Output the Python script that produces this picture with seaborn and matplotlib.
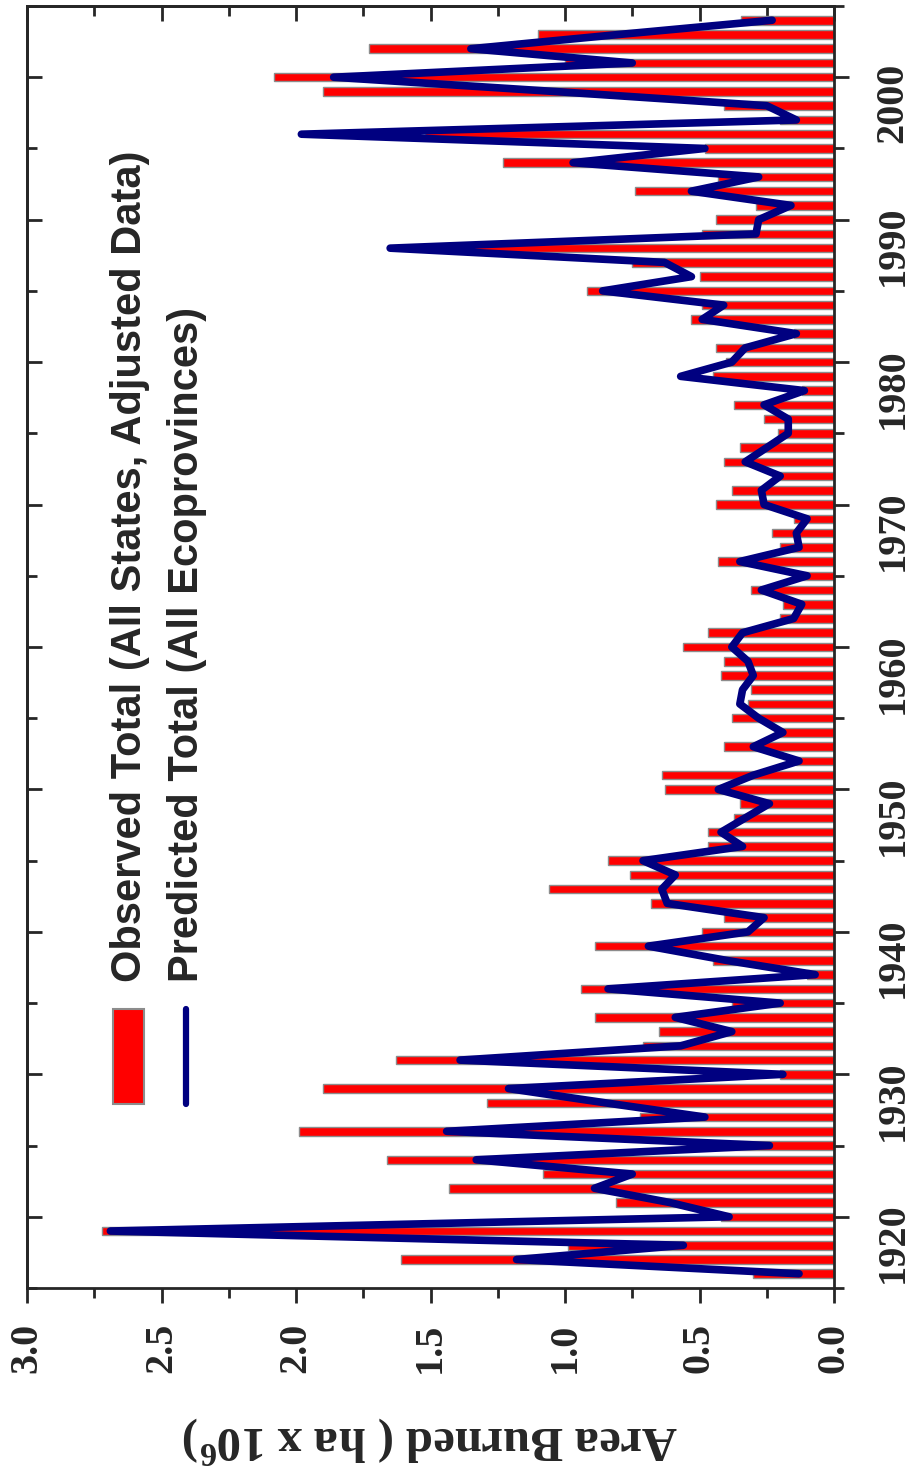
import pandas as pd
import seaborn as sns
import matplotlib.pyplot as plt
from matplotlib.patches import Rectangle
from matplotlib.lines import Line2D
from matplotlib.ticker import MultipleLocator, FormatStrFormatter

# area burned (million ha), one value per year 1916-2004
years = list(range(1916, 2005))
observed = [0.30, 1.61, 0.99, 2.72, 0.42, 0.81, 1.43, 1.08, 1.66, 0.50,
            1.99, 0.72, 1.29, 1.90, 0.20, 1.63, 0.71, 0.65, 0.89, 0.38,
            0.94, 0.10, 0.45, 0.89, 0.49, 0.41, 0.68, 1.06, 0.76, 0.84,
            0.47, 0.47, 0.37, 0.35, 0.63, 0.64, 0.14, 0.41, 0.22, 0.38,
            0.32, 0.31, 0.42, 0.41, 0.56, 0.47, 0.20, 0.19, 0.31, 0.12,
            0.43, 0.20, 0.23, 0.15, 0.44, 0.38, 0.22, 0.41, 0.35, 0.21,
            0.26, 0.37, 0.12, 0.45, 0.40, 0.44, 0.15, 0.53, 0.49, 0.92,
            0.50, 0.75, 1.35, 0.49, 0.44, 0.29, 0.74, 0.43, 1.23, 0.48,
            1.52, 0.20, 0.41, 1.90, 2.08, 1.00, 1.73, 1.10, 0.345]
predicted = [0.13, 1.18, 0.56, 2.69, 0.39, 0.61, 0.89, 0.75, 1.33, 0.24,
             1.44, 0.48, 0.85, 1.21, 0.19, 1.39, 0.57, 0.38, 0.59, 0.20,
             0.84, 0.07, 0.40, 0.69, 0.32, 0.26, 0.62, 0.64, 0.59, 0.71,
             0.34, 0.42, 0.33, 0.24, 0.43, 0.30, 0.13, 0.30, 0.19, 0.28,
             0.35, 0.34, 0.30, 0.32, 0.38, 0.34, 0.15, 0.12, 0.27, 0.10,
             0.35, 0.13, 0.14, 0.10, 0.26, 0.27, 0.20, 0.33, 0.25, 0.17,
             0.17, 0.26, 0.11, 0.57, 0.38, 0.33, 0.14, 0.49, 0.41, 0.86,
             0.53, 0.63, 1.65, 0.29, 0.28, 0.16, 0.53, 0.28, 0.97, 0.48,
             1.98, 0.14, 0.25, 1.04, 1.86, 0.75, 1.35, 0.80, 0.23]

df = pd.DataFrame({'Year': years, 'Observed': observed, 'Predicted': predicted})

sns.set_style('ticks')
plt.rcParams['font.family'] = ['Liberation Serif', 'DejaVu Serif']
plt.rcParams['font.weight'] = 'bold'
plt.rcParams['mathtext.fontset'] = 'custom'
plt.rcParams['mathtext.rm'] = 'Liberation Serif:bold'
plt.rcParams['mathtext.it'] = 'Liberation Serif:bold'
plt.rcParams['mathtext.bf'] = 'Liberation Serif:bold'

fig = plt.figure(figsize=(9.14, 14.78), dpi=100)
ax = fig.add_axes([27 / 914, 190 / 1478, 807 / 914, 1282 / 1478])

sns.barplot(data=df, x='Observed', y='Year', orient='h', native_scale=True,
            width=0.6, color='#ff0000', saturation=1, edgecolor='#8c8c8c',
            linewidth=1, ax=ax)
sns.lineplot(data=df, x='Predicted', y='Year', orient='y', sort=False,
             color='#000080', linewidth=5.5, solid_capstyle='round', ax=ax)

ax.set_xlim(3, 0)
ax.set_ylim(1915, 2005)
ax.xaxis.set_major_locator(MultipleLocator(0.5))
ax.xaxis.set_minor_locator(MultipleLocator(0.25))
ax.xaxis.set_major_formatter(FormatStrFormatter('%.1f'))
ax.yaxis.set_major_locator(MultipleLocator(10))
ax.yaxis.set_minor_locator(MultipleLocator(5))
ax.yaxis.set_major_formatter(FormatStrFormatter('%d'))
ax.yaxis.tick_right()

ax.tick_params(axis='x', which='both', direction='out', bottom=True, top=False,
               width=2, labelsize=29, labelrotation=90, pad=14)
ax.tick_params(axis='y', which='both', direction='out', right=True, left=False,
               labelright=True, labelleft=False, width=2, labelsize=29,
               labelrotation=90, pad=18)
ax.tick_params(which='major', length=11)
ax.tick_params(which='minor', length=7)
for s in ax.spines.values():
    s.set_linewidth(2)

# mirrored axes with inward ticks
top = ax.secondary_xaxis('top')
top.xaxis.set_major_locator(MultipleLocator(0.5))
top.xaxis.set_minor_locator(MultipleLocator(0.25))
top.tick_params(which='both', direction='in', labeltop=False, width=2)
top.tick_params(which='major', length=11)
top.tick_params(which='minor', length=7)
top.spines['top'].set_linewidth(2)
left = ax.secondary_yaxis('left')
left.yaxis.set_major_locator(MultipleLocator(10))
left.yaxis.set_minor_locator(MultipleLocator(5))
left.tick_params(which='both', direction='in', labelleft=False, width=2)
left.tick_params(which='major', length=11)
left.tick_params(which='minor', length=7)
left.spines['left'].set_linewidth(2)

ax.set_ylabel('')
ax.set_xlabel('Area Burned ( ha x 10$^{6}$)', fontsize=35, fontweight='bold', rotation=180)
ax.xaxis.set_label_coords(0.5, -0.1186)
ax.xaxis.label.set_va('center')

# legend drawn by hand, rotated with the chart
ax.add_patch(Rectangle((0.1066, 0.1435), 0.0384, 0.0741, transform=ax.transAxes,
                       facecolor='#ff0000', edgecolor='#8c8c8c', lw=1.5))
ax.add_line(Line2D([0.197, 0.197], [0.1435, 0.2176], transform=ax.transAxes,
                   color='#000080', lw=4.5, solid_capstyle='round'))
sans = ['Liberation Sans Narrow', 'Liberation Sans']
ax.text(0.1276, 0.2387, 'Observed Total (All States, Adjusted Data)', transform=ax.transAxes,
        rotation=90, ha='center', va='bottom', fontsize=30, fontweight='bold', family=sans)
ax.text(0.198, 0.2387, 'Predicted Total (All Ecoprovinces)', transform=ax.transAxes,
        rotation=90, ha='center', va='bottom', fontsize=30, fontweight='bold', family=sans)

fig.savefig('out.png', dpi=100, facecolor='white')
